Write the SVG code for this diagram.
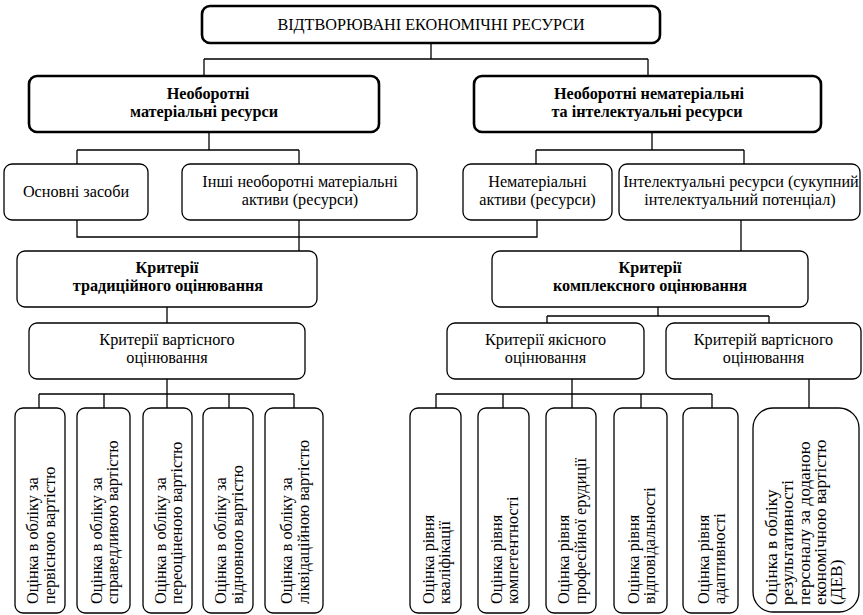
<svg xmlns="http://www.w3.org/2000/svg" width="863" height="615" viewBox="0 0 863 615">
<style>
  .box { fill: #fff; stroke: #000; stroke-width: 1.3; }
  .thick { stroke-width: 2.6; }
  .t { font-family: "Liberation Serif", "Times New Roman", serif; font-size: 16.2px; fill: #000; text-anchor: middle; }
  .b { font-weight: bold; }
  .v { font-family: "Liberation Serif", "Times New Roman", serif; font-size: 16.3px; fill: #000; text-anchor: start; }
  .dev { font-size: 17.3px; }
  .conn { fill: none; stroke: #000; stroke-width: 1.3; }
</style>
<rect width="863" height="615" fill="#fff"/>
<g id="connectors" class="conn">
  <path d="M431,43 V59 M204,59 H648 M204,59 V76 M648,59 V76"/>
  <path d="M209,132 V150 M77,150 H299 M77,150 V164 M299,150 V164"/>
  <path d="M652,132 V150 M536,150 H744 M536,150 V164 M744,150 V164"/>
  <path d="M77,220 V237 H537 V220 M299,220 V251"/>
  <path d="M741,220 V251"/>
  <path d="M167,307 V323"/>
  <path d="M167,379 V394 M39,394 H294 M39,394 V408 M104,394 V408 M167,394 V408 M229,394 V408 M294,394 V408"/>
  <path d="M658,307 V316 M547,316 H769 M547,316 V323 M769,316 V323"/>
  <path d="M572,379 V394 M436,394 H712 M436,394 V408 M503,394 V408 M572,394 V408 M641,394 V408 M712,394 V408"/>
  <path d="M809,379 V408"/>
</g>
<g id="n-root">
  <rect class="box thick" x="202" y="6" width="458" height="37" rx="8"/>
  <text class="t" x="431" y="30">ВІДТВОРЮВАНІ ЕКОНОМІЧНІ РЕСУРСИ</text>
</g>
<g id="n-material">
  <rect class="box thick" x="29" y="76" width="350" height="56" rx="8"/>
  <text class="t b" x="208" y="99">Необоротні</text>
  <text class="t b" x="204" y="117">матеріальні ресурси</text>
</g>
<g id="n-intangible">
  <rect class="box thick" x="474" y="76" width="347" height="56" rx="8"/>
  <text class="t b" x="649" y="99">Необоротні нематеріальні</text>
  <text class="t b" x="647" y="117">та інтелектуальні ресурси</text>
</g>
<g id="n-fixed">
  <rect class="box" x="4" y="164" width="144" height="56" rx="8"/>
  <text class="t" x="76" y="197">Основні засоби</text>
</g>
<g id="n-other">
  <rect class="box" x="182" y="164" width="235" height="56" rx="8"/>
  <text class="t" x="300" y="187">Інші необоротні матеріальні</text>
  <text class="t" x="300" y="205">активи (ресурси)</text>
</g>
<g id="n-nonmat">
  <rect class="box" x="463" y="164" width="149" height="56" rx="8"/>
  <text class="t" x="537.5" y="187">Нематеріальні</text>
  <text class="t" x="537.5" y="205">активи (ресурси)</text>
</g>
<g id="n-intel">
  <rect class="box" x="619" y="164" width="241" height="56" rx="8"/>
  <text class="t" x="741" y="187">Інтелектуальні ресурси (сукупний</text>
  <text class="t" x="740" y="205">інтелектуальний потенціал)</text>
</g>
<g id="n-trad">
  <rect class="box" x="17" y="251" width="300" height="56" rx="8"/>
  <text class="t b" x="167" y="273">Критерії</text>
  <text class="t b" x="168" y="291">традиційного оцінювання</text>
</g>
<g id="n-compl">
  <rect class="box" x="492" y="251" width="316" height="56" rx="8"/>
  <text class="t b" x="650" y="273">Критерії</text>
  <text class="t b" x="650" y="291">комплексного оцінювання</text>
</g>
<g id="n-cost-left">
  <rect class="box" x="29" y="323" width="276" height="56" rx="8"/>
  <text class="t" x="167" y="345">Критерії вартісного</text>
  <text class="t" x="167" y="363">оцінювання</text>
</g>
<g id="n-qual">
  <rect class="box" x="447" y="323" width="197" height="56" rx="8"/>
  <text class="t" x="545.5" y="345">Критерії якісного</text>
  <text class="t" x="545.5" y="363">оцінювання</text>
</g>
<g id="n-cost-right">
  <rect class="box" x="666" y="323" width="195" height="56" rx="8"/>
  <text class="t" x="763.5" y="345">Критерій вартісного</text>
  <text class="t" x="763.5" y="363">оцінювання</text>
</g>
<g id="n-l1">
  <rect class="box" x="15" y="408" width="50" height="205" rx="8"/>
  <text class="v" transform="translate(38,604) rotate(-90)"><tspan x="0" y="0">Оцінка в обліку за</tspan><tspan x="0" dy="16.5">первісною вартістю</tspan></text>
</g>
<g id="n-l2">
  <rect class="box" x="77" y="408" width="53" height="205" rx="8"/>
  <text class="v" transform="translate(101.5,604) rotate(-90)"><tspan x="0" y="0">Оцінка в обліку за</tspan><tspan x="0" dy="16.5">справедливою вартістю</tspan></text>
</g>
<g id="n-l3">
  <rect class="box" x="143" y="408" width="49" height="205" rx="8"/>
  <text class="v" transform="translate(165.5,604) rotate(-90)"><tspan x="0" y="0">Оцінка в обліку за</tspan><tspan x="0" dy="16.5">переоціненою вартістю</tspan></text>
</g>
<g id="n-l4">
  <rect class="box" x="203" y="408" width="50" height="205" rx="8"/>
  <text class="v" transform="translate(226,604) rotate(-90)"><tspan x="0" y="0">Оцінка в обліку за</tspan><tspan x="0" dy="16.5">відновною вартістю</tspan></text>
</g>
<g id="n-l5">
  <rect class="box" x="265" y="408" width="58" height="205" rx="8"/>
  <text class="v" transform="translate(292,604) rotate(-90)"><tspan x="0" y="0">Оцінка в обліку за</tspan><tspan x="0" dy="16.5">ліквідаційною вартістю</tspan></text>
</g>
<g id="n-r1">
  <rect class="box" x="410" y="408" width="51" height="205" rx="8"/>
  <text class="v" transform="translate(433.5,604) rotate(-90)"><tspan x="0" y="0">Оцінка рівня</tspan><tspan x="0" dy="16.5">кваліфікації</tspan></text>
</g>
<g id="n-r2">
  <rect class="box" x="478" y="408" width="51" height="205" rx="8"/>
  <text class="v" transform="translate(501.5,604) rotate(-90)"><tspan x="0" y="0">Оцінка рівня</tspan><tspan x="0" dy="16.5">компетентності</tspan></text>
</g>
<g id="n-r3">
  <rect class="box" x="546" y="408" width="50" height="205" rx="8"/>
  <text class="v" transform="translate(569,604) rotate(-90)"><tspan x="0" y="0">Оцінка рівня</tspan><tspan x="0" dy="16.5">професійної ерудиції</tspan></text>
</g>
<g id="n-r4">
  <rect class="box" x="614" y="408" width="53" height="205" rx="8"/>
  <text class="v" transform="translate(638.5,604) rotate(-90)"><tspan x="0" y="0">Оцінка рівня</tspan><tspan x="0" dy="16.5">відповідальності</tspan></text>
</g>
<g id="n-r5">
  <rect class="box" x="683" y="408" width="55" height="205" rx="8"/>
  <text class="v" transform="translate(708.5,604) rotate(-90)"><tspan x="0" y="0">Оцінка рівня</tspan><tspan x="0" dy="16.5">адаптивності</tspan></text>
</g>
<g id="n-dev">
  <rect class="box" x="753" y="408" width="106" height="204" rx="20"/>
  <text class="v dev" transform="translate(777,605) rotate(-90)"><tspan x="0" y="0">Оцінка в обліку</tspan><tspan x="0" dy="16.3">результативності</tspan><tspan x="0" dy="16.3">персоналу за доданою</tspan><tspan x="0" dy="16.3">економічною вартістю</tspan><tspan x="0" dy="16.3">(ДЕВ)</tspan></text>
</g>
</svg>
